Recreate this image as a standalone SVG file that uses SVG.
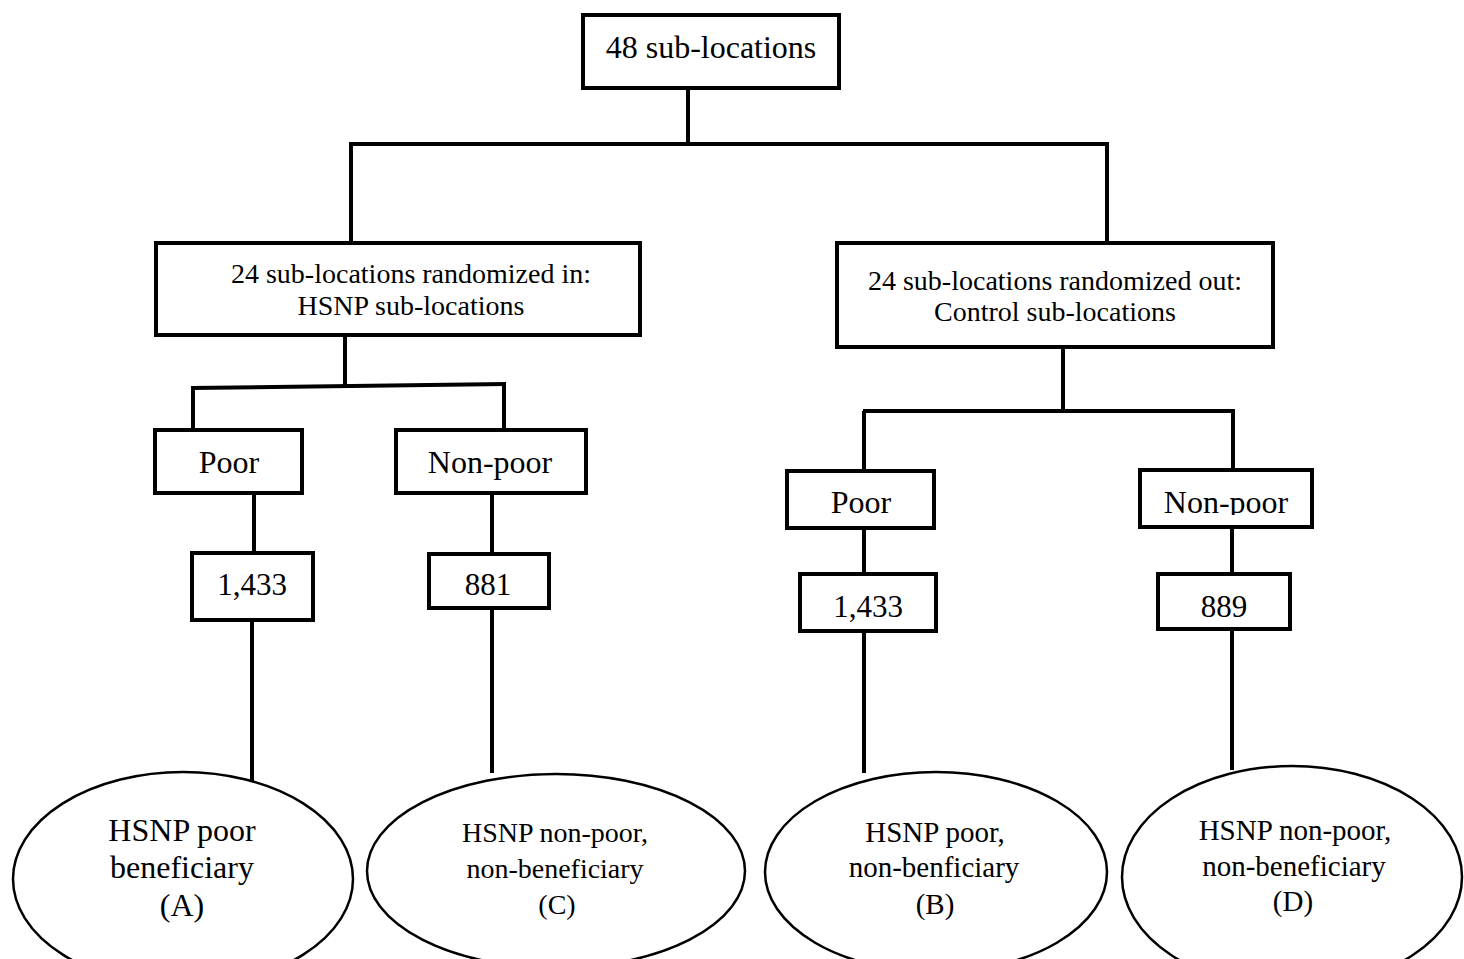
<svg xmlns="http://www.w3.org/2000/svg" width="1464" height="959" viewBox="0 0 1464 959">
<style>
.box{fill:#fff;stroke:#000;stroke-width:4}
.ell{fill:#fff;stroke:#000;stroke-width:2.5}
.ln{stroke:#000;stroke-width:4;fill:none}
text{font-family:"Liberation Serif","Times New Roman",serif;fill:#000;text-anchor:middle}
</style>
<defs>
<clipPath id="clipNP"><rect x="1140" y="470" width="172" height="45"/></clipPath>
</defs>
<rect width="1464" height="959" fill="#fff"/>
<g id="connectors">
<line class="ln" x1="688" y1="88" x2="688" y2="144"/>
<line class="ln" x1="349" y1="144" x2="1109" y2="144"/>
<line class="ln" x1="351" y1="144" x2="351" y2="243"/>
<line class="ln" x1="1107" y1="144" x2="1107" y2="243"/>
<line class="ln" x1="345" y1="335" x2="345" y2="386"/>
<line class="ln" x1="191" y1="388" x2="506" y2="384"/>
<line class="ln" x1="193" y1="388" x2="193" y2="430"/>
<line class="ln" x1="504" y1="384" x2="504" y2="430"/>
<line class="ln" x1="254" y1="493" x2="254" y2="553"/>
<line class="ln" x1="492" y1="493" x2="492" y2="554"/>
<line class="ln" x1="252" y1="620" x2="252" y2="782"/>
<line class="ln" x1="492" y1="608" x2="492" y2="773"/>
<line class="ln" x1="1063" y1="347" x2="1063" y2="411"/>
<line class="ln" x1="863" y1="411" x2="1235" y2="411"/>
<line class="ln" x1="864" y1="411" x2="864" y2="471"/>
<line class="ln" x1="1233" y1="411" x2="1233" y2="470"/>
<line class="ln" x1="864" y1="528" x2="864" y2="574"/>
<line class="ln" x1="1232" y1="527" x2="1232" y2="574"/>
<line class="ln" x1="864" y1="631" x2="864" y2="773"/>
<line class="ln" x1="1232" y1="629" x2="1232" y2="770"/>
</g>
<g id="n-top"><rect class="box" x="583" y="15" width="256" height="73"/><text x="711" y="58" font-size="32">48 sub-locations</text></g>
<g id="n-in"><rect class="box" x="156" y="243" width="484" height="92"/><text x="411" y="283" font-size="28">24 sub-locations randomized in:</text><text x="411" y="315" font-size="28">HSNP sub-locations</text></g>
<g id="n-out"><rect class="box" x="837" y="243" width="436" height="104"/><text x="1055" y="290" font-size="28">24 sub-locations randomized out:</text><text x="1055" y="321" font-size="28">Control sub-locations</text></g>
<g id="n-poorL"><rect class="box" x="155" y="430" width="147" height="63"/><text x="229" y="473" font-size="32">Poor</text></g>
<g id="n-nonpoorL"><rect class="box" x="396" y="430" width="190" height="63"/><text x="490" y="473" font-size="32">Non-poor</text></g>
<g id="n-1433L"><rect class="box" x="192" y="553" width="121" height="67"/><text x="252" y="595" font-size="31">1,433</text></g>
<g id="n-881"><rect class="box" x="429" y="554" width="120" height="54"/><text x="488" y="595" font-size="31">881</text></g>
<g id="n-poorR"><rect class="box" x="787" y="471" width="147" height="57"/><text x="861" y="513" font-size="32">Poor</text></g>
<g id="n-nonpoorR"><rect class="box" x="1140" y="470" width="172" height="57"/><text x="1226" y="513" font-size="32" clip-path="url(#clipNP)">Non-poor</text></g>
<g id="n-1433R"><rect class="box" x="800" y="574" width="136" height="57"/><text x="868" y="617" font-size="31">1,433</text></g>
<g id="n-889"><rect class="box" x="1158" y="574" width="132" height="55"/><text x="1224" y="617" font-size="31">889</text></g>
<g id="n-A"><ellipse class="ell" cx="183" cy="879" rx="170" ry="107"/><text x="182" y="841" font-size="32">HSNP poor</text><text x="182" y="878" font-size="32">beneficiary</text><text x="182" y="916" font-size="32">(A)</text></g>
<g id="n-C"><ellipse class="ell" cx="556" cy="871" rx="189" ry="97"/><text x="555" y="842" font-size="28">HSNP non-poor,</text><text x="555" y="878" font-size="28">non-beneficiary</text><text x="557" y="914" font-size="28">(C)</text></g>
<g id="n-B"><ellipse class="ell" cx="936" cy="872" rx="171" ry="100"/><text x="935" y="842" font-size="29">HSNP poor,</text><text x="934" y="877" font-size="29">non-benficiary</text><text x="935" y="914" font-size="29">(B)</text></g>
<g id="n-D"><ellipse class="ell" cx="1292" cy="877" rx="170" ry="111"/><text x="1295" y="840" font-size="29">HSNP non-poor,</text><text x="1294" y="876" font-size="29">non-beneficiary</text><text x="1293" y="911" font-size="29">(D)</text></g>
</svg>
